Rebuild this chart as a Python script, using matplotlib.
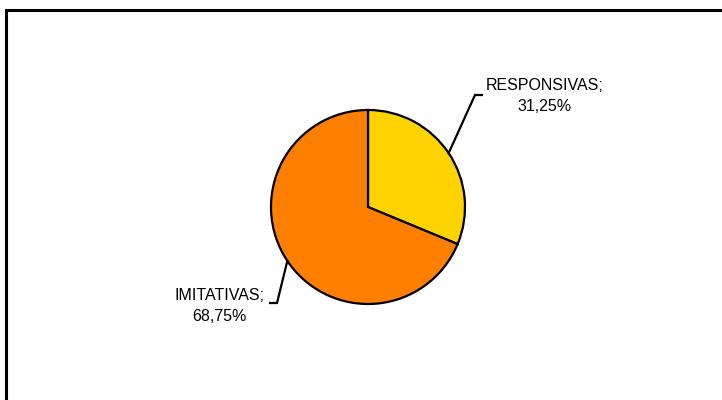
import numpy as np
import matplotlib
matplotlib.use("Agg")
import matplotlib.pyplot as plt
from matplotlib.patches import Rectangle

# Data
labels = ["RESPONSIVAS", "IMITATIVAS"]
values = [31.25, 68.75]
colors = ["#FFD300", "#FF8000"]

W, H = 722, 400
fig = plt.figure(figsize=(W / 100, H / 100), dpi=100)
ax = fig.add_axes([0, 0, 1, 1])

# chart frame (runs off the right and bottom edges like the original)
ax.add_patch(Rectangle((6, -20), W, H - 10 + 20, fill=False,
                       edgecolor="black", linewidth=2.2))

cx, cy, r = 368, H - 207, 97
wedges, _ = ax.pie(values, colors=colors, startangle=90, counterclock=False,
                   center=(cx, cy), radius=r, frame=True,
                   wedgeprops=dict(edgecolor="black", linewidth=1.6))
ax.set_xlim(0, W)
ax.set_ylim(0, H)
ax.set_aspect("equal")
ax.axis("off")

# label elbows and text anchors (pixel layout)
elbows = [(475, H - 95), (277, H - 303)]
ends = [(482, H - 95), (270, H - 303)]
texts = [(545, H - 96), (219, H - 306)]

for w, lab, v, e, en, t in zip(wedges, labels, values, elbows, ends, texts):
    ang = np.deg2rad((w.theta1 + w.theta2) / 2)
    px, py = cx + r * np.cos(ang), cy + r * np.sin(ang)
    ax.plot([px, e[0], en[0]], [py, e[1], en[1]], color="black", lw=1.6,
            solid_joinstyle="miter")
    txt = f"{lab};\n{v:.2f}%".replace(".", ",")
    ax.text(t[0], t[1], txt, ha="center", va="center", fontsize=11.5,
            family="Liberation Sans", linespacing=1.45)

fig.savefig("out.png", dpi=100)
